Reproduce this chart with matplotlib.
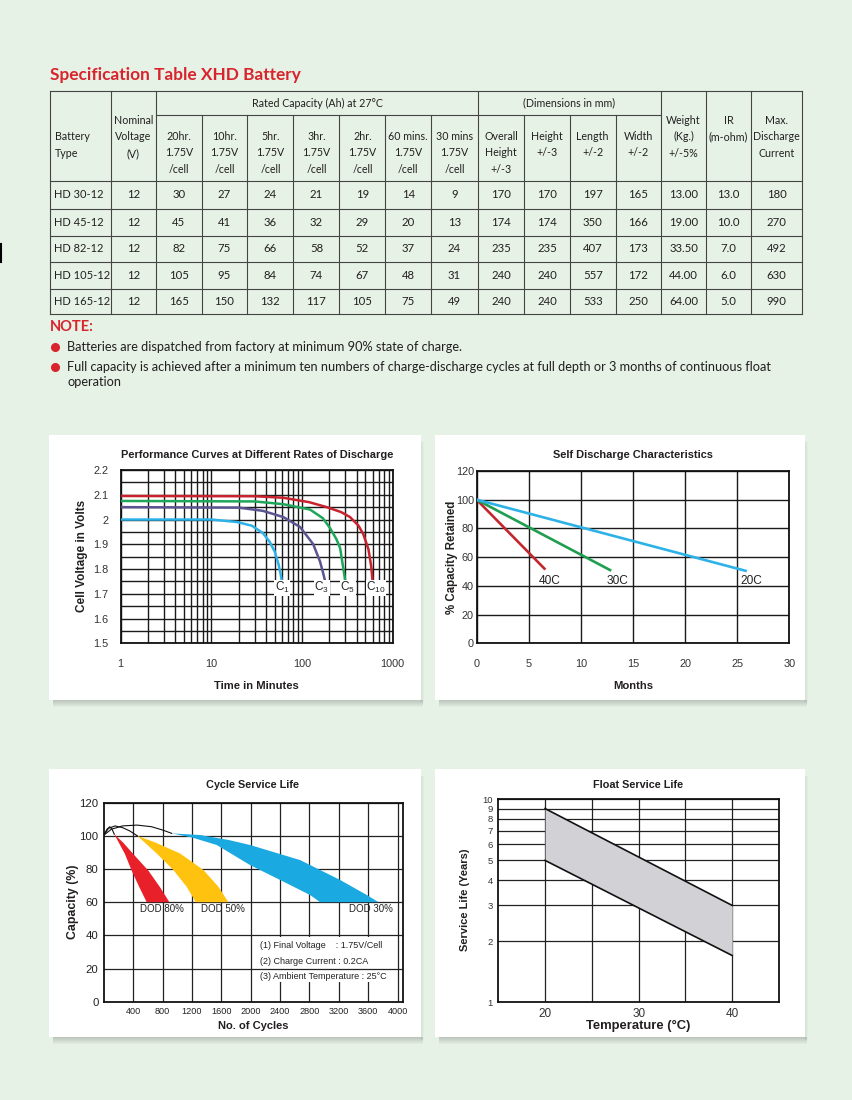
import matplotlib
matplotlib.use("Agg")
import matplotlib.pyplot as plt
from matplotlib.lines import Line2D
from matplotlib.patches import Rectangle
from matplotlib.ticker import FixedLocator, NullFormatter, LogLocator, MultipleLocator

plt.rcParams['mathtext.fontset'] = 'custom'
plt.rcParams['mathtext.rm'] = 'Liberation Sans'
plt.rcParams['mathtext.default'] = 'regular'

W, H = 853, 1100
BG = "#e6f2e6"
TF = ["Lato", "DejaVu Sans"]          # table font
CF = ["Liberation Sans", "DejaVu Sans"]  # chart font
RED = "#d9232d"
TS = 7.7  # table text size

# spec table data
battery_types = ["HD 30-12", "HD 45-12", "HD 82-12", "HD 105-12", "HD 165-12"]
nominal_v = [12, 12, 12, 12, 12]
cap_20hr = [30, 45, 82, 105, 165]
cap_10hr = [27, 41, 75, 95, 150]
cap_5hr = [24, 36, 66, 84, 132]
cap_3hr = [21, 32, 58, 74, 117]
cap_2hr = [19, 29, 52, 67, 105]
cap_60min = [14, 20, 37, 48, 75]
cap_30min = [9, 13, 24, 31, 49]
overall_height = [170, 174, 235, 240, 240]
height = [170, 174, 235, 240, 240]
length = [197, 350, 407, 557, 533]
width = [165, 166, 173, 172, 250]
weight = ["13.00", "19.00", "33.50", "44.00", "64.00"]
ir = ["13.0", "10.0", "7.0", "6.0", "5.0"]
max_current = [180, 270, 492, 630, 990]

rate_heads = ["20hr.", "10hr.", "5hr.", "3hr.", "2hr.", "60 mins.", "30 mins"]
notes = ["Batteries are dispatched from factory at minimum 90% state of charge.",
         "Full capacity is achieved after a minimum ten numbers of charge-discharge cycles at full depth or 3 months of continuous float",
         "operation"]

# performance curves (minutes, volts)
c1_t = [1, 10, 19, 28, 37, 44, 50, 55, 58, 60]
c1_v = [2.0, 2.0, 1.99, 1.975, 1.945, 1.91, 1.87, 1.82, 1.78, 1.75]
c3_t = [1, 20, 37, 62, 95, 133, 158, 172, 180]
c3_v = [2.05, 2.048, 2.035, 2.01, 1.97, 1.90, 1.83, 1.78, 1.75]
c5_t = [1, 30, 62, 123, 170, 204, 240, 263, 286, 300]
c5_v = [2.075, 2.073, 2.062, 2.04, 2.005, 1.965, 1.92, 1.885, 1.80, 1.75]
c10_t = [1, 30, 62, 120, 187, 270, 338, 420, 475, 540, 580, 600]
c10_v = [2.095, 2.094, 2.088, 2.07, 2.05, 2.03, 2.01, 1.975, 1.94, 1.88, 1.81, 1.75]

# self discharge (months, % retained)
sd_months_40 = [0, 6.5]
sd_cap_40 = [100, 52]
sd_months_30 = [0, 12.8]
sd_cap_30 = [100, 51]
sd_months_20 = [0, 25.8]
sd_cap_20 = [100, 50.5]

# cycle life bands (cycles, capacity %)
red_in_x = [140, 286, 377, 482, 582]
red_in_y = [101, 89, 79, 69, 60]
red_out_x = [140, 260, 400, 605, 764, 891]
red_out_y = [101, 96, 89, 79, 69, 60]
yel_in_x = [455, 718, 945, 1127, 1250]
yel_in_y = [100, 89.4, 79.4, 69.3, 60]
yel_out_x = [455, 700, 1036, 1355, 1559, 1695]
yel_out_y = [100, 96, 89.4, 79.4, 69.3, 60]
blu_in_x = [923, 1200, 1536, 1990, 2445, 2809, 2945]
blu_in_y = [101.5, 99, 94.5, 82.4, 72.4, 64.3, 60]
blu_out_x = [923, 1310, 1700, 1990, 2673, 3218, 3582, 3740]
blu_out_y = [101.5, 100.5, 97.5, 94.5, 85.4, 73.4, 64.3, 60]
ramp_a_x = [0, 40, 80, 110, 140]
ramp_a_y = [100.5, 104, 105.5, 104, 101]
ramp_b_x = [0, 60, 150, 250, 350, 455]
ramp_b_y = [100.5, 104.5, 106, 105, 103, 100]
ramp_c_x = [0, 100, 250, 450, 650, 800, 923]
ramp_c_y = [100.5, 104, 106, 106.5, 105.5, 103.5, 101.5]

# float life (deg C, years)
fl_temp = [20, 40]
fl_low = [5, 1.7]
fl_high = [9, 3]

fig = plt.figure(figsize=(W / 100, H / 100), dpi=100)
fig.patch.set_facecolor(BG)


def fx(x):
    return x / W


def fy(y):
    return 1 - y / H


def line(x0, y0, x1, y1, color="#454545", lw=0.8):
    fig.add_artist(Line2D([fx(x0), fx(x1)], [fy(y0), fy(y1)], color=color, lw=lw, zorder=2))


def txt(x, y, s, size=TS, ha="center", color="#231f20", weight="normal", family=TF, rot=0):
    fig.text(fx(x), fy(y), s, ha=ha, va="center", fontsize=size, color=color,
             fontweight=weight, family=family, rotation=rot)


def panel(x0, y0, x1, y1):
    for k in range(7):
        a = 0.28 * (1 - k / 7)
        fig.add_artist(Rectangle((fx(x0 + 4), fy(y1 + k + 1)), (x1 - x0 - 2) / W, 1 / H,
                                 transform=fig.transFigure, facecolor="#555555", alpha=a,
                                 edgecolor="none", zorder=-2))
    for k in range(3):
        a = 0.12 * (1 - k / 3)
        fig.add_artist(Rectangle((fx(x1 + k), fy(y1 + 3)), 1 / W, (y1 - y0 - 4) / H,
                                 transform=fig.transFigure, facecolor="#777777", alpha=a,
                                 edgecolor="none", zorder=-2))
    fig.add_artist(Rectangle((fx(x0), fy(y1)), (x1 - x0) / W, (y1 - y0) / H,
                             transform=fig.transFigure, facecolor="white",
                             edgecolor="none", zorder=-1))


def make_ax(l, t, r, b):
    ax = fig.add_axes([fx(l), fy(b), (r - l) / W, (b - t) / H])
    for s in ax.spines.values():
        s.set_linewidth(1.3)
        s.set_color("#111111")
    return ax


# ---------------- table ----------------
txt(50, 75, "Specification Table XHD Battery", size=12.4, ha="left", color=RED, weight="bold")

cols = [50, 110.7, 156, 201.7, 247.3, 293.5, 339.3, 385.5, 431, 478, 524.5, 570, 615.5, 661, 706, 751, 802]
rows = [181, 209, 236, 262, 289, 314]
top = 91
line(cols[0], top, cols[-1], top)
line(cols[2], 115, cols[13], 115)
for r in rows:
    line(cols[0], r, cols[-1], r)
for i, c in enumerate(cols):
    if i in (3, 4, 5, 6, 7, 8, 10, 11, 12):
        line(c, 115, c, rows[-1])
    else:
        line(c, top, c, rows[-1])

ls = 16.7
txt(55, 136, "Battery", ha="left")
txt(55, 153, "Type", ha="left")
cx = [(cols[i] + cols[i + 1]) / 2 for i in range(len(cols) - 1)]
for k, s in enumerate(["Nominal", "Voltage", "(V)"]):
    txt(cx[1], 120 + k * ls, s)
txt((cols[2] + cols[9]) / 2, 103, "Rated Capacity (Ah) at 27°C")
txt((cols[9] + cols[13]) / 2, 103, "(Dimensions in mm)")
for j, h in enumerate(rate_heads):
    for k, s in enumerate([h, "1.75V", "/cell"]):
        txt(cx[2 + j], 136 + k * ls, s)
dim_heads = [["Overall", "Height", "+/-3"], ["Height", "+/-3"], ["Length", "+/-2"], ["Width", "+/-2"]]
for j, hs in enumerate(dim_heads):
    for k, s in enumerate(hs):
        txt(cx[9 + j], 136 + k * ls, s)
for j, hs in enumerate([["Weight", "(Kg.)", "+/-5%"], ["IR", "(m-ohm)"], ["Max.", "Discharge", "Current"]]):
    for k, s in enumerate(hs):
        txt(cx[13 + j], 120 + k * ls, s)

table_cols = [nominal_v, cap_20hr, cap_10hr, cap_5hr, cap_3hr, cap_2hr, cap_60min, cap_30min,
              overall_height, height, length, width, weight, ir, max_current]
for i, name in enumerate(battery_types):
    yc = (rows[i] + rows[i + 1]) / 2
    txt(54, yc, name, size=8, ha="left")
    for j, col in enumerate(table_cols):
        txt(cx[1 + j], yc, str(col[i]), size=8.2)

txt(50, 327, "NOTE:", size=10.5, ha="left", color=RED, weight="bold")
for s, y in zip(notes, [347, 367, 382]):
    txt(67, y, s, size=9.2, ha="left")
for y in [347, 367]:
    fig.add_artist(Line2D([fx(55)], [fy(y)], marker="o", markersize=5.5, color=RED,
                          linestyle="none", zorder=3))
line(1, 244, 1, 262, color="black", lw=1.5)

# ---------------- panels ----------------
panel(49, 435, 421, 700)
panel(435, 435, 805, 700)
panel(49, 769, 421, 1037)
panel(435, 769, 805, 1037)

# chart 1: performance curves
ax1 = make_ax(120.7, 470, 392.7, 643.3)
ax1.set_xscale("log")
ax1.set_xlim(1, 1000)
ax1.set_ylim(1.5, 2.2)
ax1.xaxis.set_major_locator(FixedLocator([1, 10, 100, 1000]))
ax1.xaxis.set_minor_locator(LogLocator(base=10, subs=range(2, 10)))
ax1.xaxis.set_minor_formatter(NullFormatter())
ax1.set_xticklabels(["1", "10", "100", "1000"])
ax1.yaxis.set_minor_locator(MultipleLocator(0.05))
ax1.set_yticks([1.5, 1.6, 1.7, 1.8, 1.9, 2.0, 2.1, 2.2])
ax1.set_yticklabels(["1.5", "1.6", "1.7", "1.8", "1.9", "2", "2.1", "2.2"])
ax1.grid(which="both", color="#1a1a1a", lw=1.0)
ax1.tick_params(which="both", length=0)
ax1.tick_params(axis="x", pad=11, labelsize=7.8, labelcolor="#333333")
ax1.tick_params(axis="y", pad=9, labelsize=7.8, labelcolor="#333333")
for t, v, c in [(c1_t, c1_v, "#2db2e8"), (c3_t, c3_v, "#5a5590"), (c5_t, c5_v, "#1ea659"), (c10_t, c10_v, "#c8232c")]:
    ax1.plot(t, v, color=c, lw=1.8, solid_capstyle="butt", zorder=3)
for x, s in [(50, "C$_{1}$"), (137, "C$_{3}$"), (265, "C$_{5}$"), (510, "C$_{10}$")]:
    ax1.text(x, 1.724, s, ha="left", va="center", fontsize=8.5, family=CF, color="#222222",
             bbox=dict(facecolor="white", edgecolor="none", pad=0.3), zorder=4)
txt(256.7, 455, "Performance Curves at Different Rates of Discharge", size=7.9, weight="bold", family=CF)
txt(256.7, 686, "Time in Minutes", size=8.1, weight="bold", family=CF)
txt(82, 556, "Cell Voltage in Volts", size=8.5, weight="bold", family=CF, rot=90)
for lab in ax1.get_xticklabels() + ax1.get_yticklabels():
    lab.set_family(CF)

# chart 2: self discharge
ax2 = make_ax(476.7, 471, 789.3, 643.3)
ax2.set_xlim(0, 30)
ax2.set_ylim(0, 120)
ax2.set_xticks(range(0, 31, 5))
ax2.set_yticks(range(0, 121, 20))
ax2.grid(color="#1a1a1a", lw=1.0)
ax2.tick_params(length=0, labelsize=7.8, labelcolor="#333333")
ax2.tick_params(axis="x", pad=11)
ax2.tick_params(axis="y", pad=2)
ax2.plot(sd_months_40, sd_cap_40, color="#c1272d", lw=1.9, zorder=3)
ax2.plot(sd_months_30, sd_cap_30, color="#1e9e4e", lw=1.9, zorder=3)
ax2.plot(sd_months_20, sd_cap_20, color="#2db2e8", lw=1.9, zorder=3)
for x, s in [(6.0, "40C"), (12.5, "30C"), (25.3, "20C")]:
    ax2.text(x, 43.5, s, ha="left", va="center", fontsize=8.6, family=CF, color="#222222")
txt(633, 455, "Self Discharge Characteristics", size=7.9, weight="bold", family=CF)
txt(633, 686, "Months", size=8.1, weight="bold", family=CF)
txt(452, 557, "% Capacity Retained", size=8.3, weight="bold", family=CF, rot=90)
for lab in ax2.get_xticklabels() + ax2.get_yticklabels():
    lab.set_family(CF)

# chart 3: cycle service life
ax3 = make_ax(104, 802.7, 402.7, 1001.7)
ax3.set_xlim(0, 4070)
ax3.set_ylim(0, 120)
ax3.set_xticks(range(400, 4001, 400))
ax3.set_yticks(range(0, 121, 20))
for x in range(400, 4001, 400):
    ax3.axvline(x, color="#222222", lw=0.9, zorder=1)
ax3.add_patch(Rectangle((2080, 12), 1900, 27, facecolor="white", edgecolor="none", zorder=1.5))
for y in range(20, 121, 20):
    ax3.axhline(y, color="#222222", lw=0.9, zorder=2)
ax3.tick_params(length=0, labelsize=8.2, labelcolor="#222222", pad=4)
ax3.fill(red_in_x + red_out_x[::-1], red_in_y + red_out_y[::-1], color="#e8202a", lw=0, zorder=3)
ax3.fill(yel_in_x + yel_out_x[::-1], yel_in_y + yel_out_y[::-1], color="#ffc20e", lw=0, zorder=3)
ax3.fill(blu_in_x + blu_out_x[::-1], blu_in_y + blu_out_y[::-1], color="#1ba9e1", lw=0, zorder=3)
for xs, ys in [(ramp_a_x, ramp_a_y), (ramp_b_x, ramp_b_y), (ramp_c_x, ramp_c_y)]:
    ax3.plot(xs, ys, color="#111111", lw=0.8, zorder=4)
for x, s in [(790, "DOD 80%"), (1620, "DOD 50%"), (3640, "DOD 30%")]:
    ax3.text(x, 55.7, s, ha="center", va="center", fontsize=7, family=CF, color="#222222", zorder=5)
for y, s in [(34, "(1) Final Voltage    : 1.75V/Cell"), (24.3, "(2) Charge Current : 0.2CA"),
             (15, "(3) Ambient Temperature : 25°C")]:
    ax3.text(2130, y, s, ha="left", va="center", fontsize=6.5, family=CF, color="#222222", zorder=5)
txt(253, 785, "Cycle Service Life", size=7.8, weight="bold", family=CF)
txt(253, 1026, "No. of Cycles", size=8, weight="bold", family=CF)
txt(73, 902, "Capacity (%)", size=8.9, weight="bold", family=CF, rot=90)
for lab in ax3.get_xticklabels() + ax3.get_yticklabels():
    lab.set_family(CF)
for lab in ax3.get_xticklabels():
    lab.set_fontsize(6.6)

# chart 4: float service life
ax4 = make_ax(498.3, 799.3, 779, 1002.3)
ax4.set_yscale("log")
ax4.set_xlim(15, 45)
ax4.set_ylim(1, 10)
ax4.set_xticks([20, 30, 40])
ax4.yaxis.set_major_locator(FixedLocator(range(1, 11)))
ax4.yaxis.set_minor_locator(FixedLocator([]))
ax4.set_yticklabels([str(v) for v in range(1, 11)])
for x in [20, 25, 30, 35, 40]:
    ax4.axvline(x, color="#222222", lw=0.9, zorder=1)
for y in range(2, 11):
    ax4.axhline(y, color="#222222", lw=0.9, zorder=1)
ax4.fill_between(fl_temp, fl_low, fl_high, color="#d2d2d6", lw=0, zorder=2)
ax4.plot(fl_temp, fl_high, color="#111111", lw=1.2, zorder=3)
ax4.plot(fl_temp, fl_low, color="#111111", lw=1.2, zorder=3)
ax4.tick_params(length=0, labelsize=6.8, labelcolor="#333333", pad=4)
txt(638, 785, "Float Service Life", size=7.8, weight="bold", family=CF)
txt(638, 1026, "Temperature (°C)", size=9.4, weight="bold", family=CF)
txt(465, 900, "Service Life (Years)", size=8, weight="bold", family=CF, rot=90)
for lab in ax4.get_xticklabels() + ax4.get_yticklabels():
    lab.set_family(CF)
for lab in ax4.get_xticklabels():
    lab.set_fontsize(8.5)

fig.savefig("out.png", dpi=100, facecolor=BG)
